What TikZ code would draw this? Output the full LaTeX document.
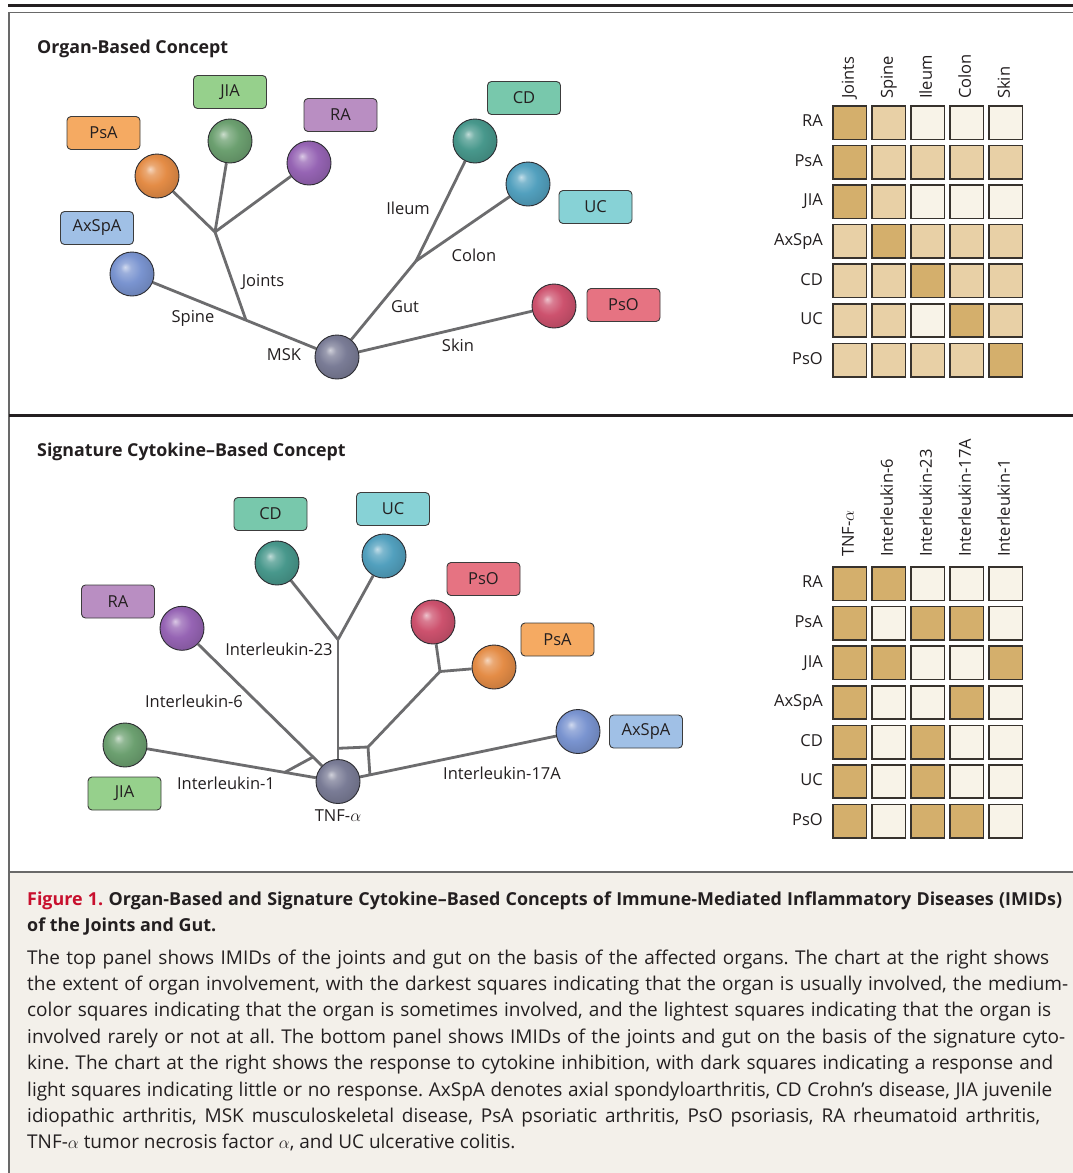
\documentclass[tikz,border=0pt]{standalone}
\usepackage{fontspec}
\setmainfont{Open Sans}
\usetikzlibrary{calc}
\frenchspacing
\definecolor{ink}{RGB}{35,31,32}
\definecolor{branchc}{RGB}{108,108,110}
\definecolor{rimc}{RGB}{45,45,50}
\definecolor{boxrim}{RGB}{60,60,60}
\definecolor{cellrim}{RGB}{55,50,45}
\definecolor{cellD}{RGB}{212,175,108}
\definecolor{cellM}{RGB}{232,208,166}
\definecolor{cellL}{RGB}{248,243,232}
\definecolor{capbg}{RGB}{243,240,234}
\definecolor{figred}{RGB}{200,16,46}
\definecolor{frameg}{RGB}{105,105,105}
\definecolor{bJIA}{RGB}{108,160,112}
\definecolor{xJIA}{RGB}{150,208,140}
\definecolor{bPsA}{RGB}{228,140,70}
\definecolor{xPsA}{RGB}{245,170,98}
\definecolor{bRA}{RGB}{150,100,180}
\definecolor{xRA}{RGB}{185,142,194}
\definecolor{bAx}{RGB}{122,148,208}
\definecolor{xAx}{RGB}{160,192,230}
\definecolor{bCD}{RGB}{72,152,140}
\definecolor{xCD}{RGB}{120,200,172}
\definecolor{bUC}{RGB}{82,160,190}
\definecolor{xUC}{RGB}{135,210,214}
\definecolor{bPsO}{RGB}{205,82,110}
\definecolor{xPsO}{RGB}{230,115,130}
\definecolor{bHub}{RGB}{122,124,150}
\colorlet{ballc}{gray}
\pgfdeclareradialshading[ballc]{softball}{\pgfpoint{-8bp}{8bp}}{%
 color(0bp)=(ballc!35!white); color(6bp)=(ballc!75!white); color(16bp)=(ballc); color(28bp)=(ballc!88!black); color(50bp)=(ballc!72!black)}
\pgfdeclarelayer{bg}
\pgfsetlayers{bg,main}
\newcommand\lblfont{\fontsize{16.5}{19}\selectfont}
\newcommand\ttlfont{\fontsize{17.8}{21}\selectfont\bfseries}
\newcommand\capfont{\fontsize{19}{22}\selectfont}
\newcommand\capheadfont{\fontsize{17.9}{21}\selectfont\bfseries}
\tikzset{
 sphere/.style={circle, minimum size=44pt, inner sep=0pt, draw=rimc, line width=0.9pt, /utils/exec={\colorlet{ballc}{#1}}, shade, shading=softball},
 dtag/.style={rectangle, rounded corners=4pt, draw=boxrim, line width=0.9pt, fill=#1, minimum width=73pt, minimum height=33pt, inner sep=0pt, font=\lblfont, text=ink},
 branch/.style={draw=branchc, line width=2.8pt},
 lbl/.style={font=\lblfont, text=ink, inner sep=0pt, text height=11.8pt, text depth=3.5pt},
 hcell/.style={rectangle, draw=cellrim, line width=1.6pt, minimum size=33.4pt, inner sep=0pt, fill=cell#1},
 rowlbl/.style={lbl, anchor=east},
 collbl/.style={lbl, rotate=90, anchor=west},
 ttl/.style={font=\ttlfont, text=ink, anchor=base west, inner sep=0pt},
 capl/.style={font=\capfont, text=ink, anchor=base west, inner sep=0pt},
 caph/.style={font=\capheadfont, text=ink, anchor=base west, inner sep=0pt},
}
\begin{document}
\begin{tikzpicture}[x=1pt,y=-1pt]
\useasboundingbox (0,0) rectangle (1073,1173);
\begin{pgfonlayer}{bg}
\fill[white] (0,0) rectangle (1073,1173);
\fill[capbg] (9,872) rectangle (1073,1173);
\draw[ink, line width=2.5pt] (8,5.5) -- (1073,5.5);
\draw[frameg, line width=1.5pt] (9,1173) -- (9,12.5) -- (1073,12.5);
\draw[ink, line width=2.2pt] (9,415.5) -- (1073,415.5);
\draw[frameg, line width=2pt] (9,872) -- (1073,872);
\end{pgfonlayer}

% ---------- top panel ----------
\node[ttl] (t1) at (37,53.3) {Organ-Based Concept};

\node[sphere=bPsA] (oPsAb) at (157,176) {};
\node[sphere=bJIA] (oJIAb) at (230,141) {};
\node[sphere=bRA] (oRAb) at (309,163) {};
\node[sphere=bAx] (oAxb) at (132,274) {};
\node[sphere=bCD] (oCDb) at (475,141) {};
\node[sphere=bUC] (oUCb) at (528,184) {};
\node[sphere=bPsO] (oPsOb) at (554,306) {};
\node[sphere=bHub] (oMSK) at (337,357) {};

\node[dtag=xPsA] (oPsAl) at (103.5,133) {PsA};
\node[dtag=xJIA] (oJIAl) at (230,92) {JIA};
\node[dtag=xRA] (oRAl) at (340.5,115) {RA};
\node[dtag=xAx] (oAxl) at (97,228) {AxSpA};
\node[dtag=xCD] (oCDl) at (524,98) {CD};
\node[dtag=xUC] (oUCl) at (595.5,207) {UC};
\node[dtag=xPsO] (oPsOl) at (623.5,305) {PsO};

\coordinate (oJ) at (215,232);
\coordinate (oS) at ($(oAxb)!0.556!(oMSK)$);
\coordinate (oG) at (416,261);

\begin{pgfonlayer}{bg}
\draw[branch] (oPsAb) -- (oJ);
\draw[branch] (oJIAb) -- (oJ);
\draw[branch] (oRAb) -- (oJ);
\draw[branch] (oJ) -- (oS);
\draw[branch] (oAxb) -- (oMSK);
\draw[branch] (oMSK) -- (oG);
\draw[branch] (oG) -- (oCDb);
\draw[branch] (oG) -- (oUCb);
\draw[branch] (oMSK) -- (oPsOb);
\end{pgfonlayer}

\node[lbl] (tJoints) at (263,282) {Joints};
\node[lbl] (tSpine) at (193,318) {Spine};
\node[lbl] (tMSK) at (284,356) {MSK};
\node[lbl] (tIleum) at (408,210) {Ileum};
\node[lbl] (tColon) at (474,257) {Colon};
\node[lbl] (tGut) at (405,308) {Gut};
\node[lbl] (tSkin) at (458,347) {Skin};

\foreach \vals [count=\i] in {{D,M,L,L,L},{D,M,M,M,M},{D,M,L,L,L},{M,D,M,M,M},{M,M,D,M,M},{M,M,L,D,M},{M,M,M,M,D}}{
  \foreach \v [count=\j] in \vals {
    \node[hcell=\v] (ta\i\j) at ({849.8+39*(\j-1)},{122.7+39.55*(\i-1)}) {};
  }
}
\foreach \t [count=\i] in {RA,PsA,JIA,AxSpA,CD,UC,PsO}
  \node[rowlbl] (tr\i) at (823,{122.7+39.55*(\i-1)}) {\t};
\foreach \t [count=\j] in {Joints,Spine,Ileum,Colon,Skin}
  \node[collbl] (tc\j) at ({849.8+39*(\j-1)},99) {\t};

% ---------- bottom panel ----------
\node[ttl] (t2) at (37,456) {Signature Cytokine–Based Concept};

\node[sphere=bCD] (sCDb) at (277,563) {};
\node[sphere=bUC] (sUCb) at (384,556) {};
\node[sphere=bRA] (sRAb) at (182,628.3) {};
\node[sphere=bPsO] (sPsOb) at (433,622) {};
\node[sphere=bPsA] (sPsAb) at (494,667) {};
\node[sphere=bAx] (sAxb) at (578,731.5) {};
\node[sphere=bJIA] (sJIAb) at (125,745) {};
\node[sphere=bHub] (sTNF) at (338,781.5) {};

\node[dtag=xCD] (sCDl) at (270.5,514) {CD};
\node[dtag=xUC] (sUCl) at (393,509) {UC};
\node[dtag=xRA] (sRAl) at (118,601.5) {RA};
\node[dtag=xPsO] (sPsOl) at (483.5,579) {PsO};
\node[dtag=xPsA] (sPsAl) at (557.5,639.5) {PsA};
\node[dtag=xAx] (sAxl) at (646,731.5) {AxSpA};
\node[dtag=xJIA] (sJIAl) at (124.5,793.5) {JIA};

\coordinate (sJ23) at (338,639.5);
\coordinate (sJv) at (338,748.3);
\coordinate (sJh) at (368,747);
\coordinate (sJ17) at ($(sTNF)!0.133!(sAxb)$);
\coordinate (sJp) at (440,671.5);
\coordinate (sJ6) at ($(sRAb)!0.84!(sTNF)$);
\coordinate (sJ1) at ($(sJIAb)!0.75!(sTNF)$);

\begin{pgfonlayer}{bg}
\draw[branch] (sCDb) -- (sJ23);
\draw[branch] (sUCb) -- (sJ23);
\draw[branch] (sJ23) -- (sTNF);
\draw[branch] (sRAb) -- (sTNF);
\draw[branch] (sJIAb) -- (sTNF);
\draw[branch] (sTNF) -- (sAxb);
\draw[branch] (sJv) -- (sJh) -- (sJ17);
\draw[branch] (sJh) -- (sJp);
\draw[branch] (sJp) -- (sPsOb);
\draw[branch] (sJp) -- (sPsAb);
\draw[branch] (sJ1) -- (sJ6);
\end{pgfonlayer}

\node[lbl] (sL23) at (279,651) {Interleukin-23};
\node[lbl] (sL6) at (194,703) {Interleukin-6};
\node[lbl] (sL1) at (226,785) {Interleukin-1};
\node[lbl] (sL17) at (502,775) {Interleukin-17A};
\node[lbl] (sLTNF) at (338,817) {TNF-$\alpha$};

\foreach \vals [count=\i] in {{D,D,L,L,L},{D,L,D,D,L},{D,D,L,L,D},{D,L,L,D,L},{D,L,D,L,L},{D,L,D,L,L},{D,L,D,D,L}}{
  \foreach \v [count=\j] in \vals {
    \node[hcell=\v] (tb\i\j) at ({849.8+39*(\j-1)},{583.8+39.55*(\i-1)}) {};
  }
}
\foreach \t [count=\i] in {RA,PsA,JIA,AxSpA,CD,UC,PsO}
  \node[rowlbl] (br\i) at (823,{583.8+39.55*(\i-1)}) {\t};
\foreach \t [count=\j] in {TNF-$\alpha$,Interleukin-6,Interleukin-23,Interleukin-17A,Interleukin-1}
  \node[collbl] (bc\j) at ({849.8+39*(\j-1)},557) {\t};

% ---------- caption ----------
\node[caph] (h1) at (27,905) {\makebox[1035pt][s]{\textcolor{figred}{Figure 1.} Organ-Based and Signature Cytokine–Based Concepts of Immune-Mediated Inflammatory Diseases (IMIDs)}};
\node[caph] (h2) at (27,931.5) {of the Joints and Gut.};
\node[capl] (c1) at (27,964) {\makebox[1022pt][s]{The top panel shows IMIDs of the joints and gut on the basis of the affected organs. The chart at the right shows}};
\node[capl] (c2) at (27,990.4) {\makebox[1041pt][s]{the extent of organ involvement, with the darkest squares indicating that the organ is usually involved, the medium-}};
\node[capl] (c3) at (27,1016.8) {\makebox[1024pt][s]{color squares indicating that the organ is sometimes involved, and the lightest squares indicating that the organ is}};
\node[capl] (c4) at (27,1043.2) {\makebox[1038pt][s]{involved rarely or not at all. The bottom panel shows IMIDs of the joints and gut on the basis of the signature cyto-}};
\node[capl] (c5) at (27,1069.6) {\makebox[1026pt][s]{kine. The chart at the right shows the response to cytokine inhibition, with dark squares indicating a response and}};
\node[capl] (c6) at (27,1096) {\makebox[1025pt][s]{light squares indicating little or no response. AxSpA denotes axial spondyloarthritis, CD Crohn’s disease, JIA juvenile}};
\node[capl] (c7) at (27,1122.4) {\makebox[1013pt][s]{idiopathic arthritis, MSK musculoskeletal disease, PsA psoriatic arthritis, PsO psoriasis, RA rheumatoid arthritis,}};
\node[capl] (c8) at (27,1148.8) {TNF-$\alpha$ tumor necrosis factor $\alpha$, and UC ulcerative colitis.};
\end{tikzpicture}
\end{document}
